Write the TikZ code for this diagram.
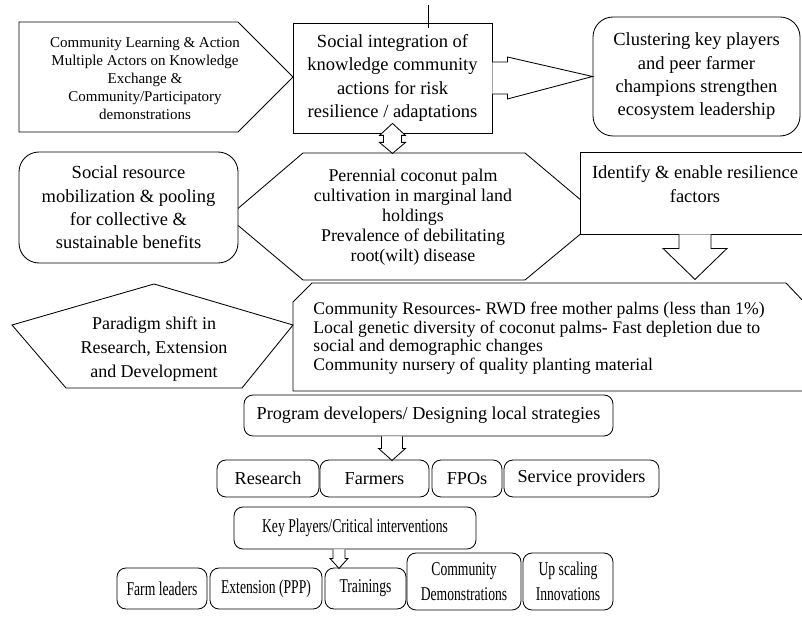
\documentclass[tikz,border=0pt]{standalone}
\usepackage{fontspec}
\setmainfont{Liberation Serif}
\newfontfamily\condfont[FakeStretch=0.7]{Liberation Serif}
\usetikzlibrary{calc}
\usetikzlibrary{positioning}

\begin{document}
\begin{tikzpicture}
    [
    x=1pt, y=-1pt,
    line width=0.85pt,
    sqbox/.style={rectangle,draw,fill=white,inner sep=0pt,align=center},
    rbox/.style={rectangle,rounded corners=9pt,draw,fill=white,inner sep=0pt,align=center},
    txt/.style={align=center,inner sep=0pt},
    blk/.style={draw,fill=white,line join=miter},
    big/.style={font=\fontsize{18.5}{23.3}\selectfont},
    mid/.style={font=\fontsize{18.2}{20}\selectfont},
    small/.style={font=\fontsize{15}{18}\selectfont},
    cond/.style={font=\condfont\fontsize{19.5}{25}\selectfont}
    ]
    \useasboundingbox (0,0) rectangle (802,628);
    % shaped boxes
    \draw (303,153) -- (525,153) -- (601,217) -- (525,280) -- (303,280) -- (228,217) -- cycle;
    \node (coco) at (413,217) [txt,font=\fontsize{17.9}{20}\selectfont] {Perennial coconut palm\\cultivation in marginal land\\holdings\\Prevalence of debilitating\\root(wilt) disease};
    \draw (19,22) -- (238,22) -- (293,77) -- (238,132) -- (19,132) -- cycle;
    \node (learn) at (145,79) [txt,small] {Community Learning \& Action\\Multiple Actors on Knowledge\\Exchange \&\\Community/Participatory\\demonstrations};
    \node (integ) at (392.5,78) [sqbox,big,minimum width=199,minimum height=110] {Social integration of\\knowledge community\\actions for risk\\resilience / adaptations};
    \node (clust) at (696.5,76.5) [rbox,big,rounded corners=20pt,minimum width=207,minimum height=119] {Clustering key players\\and peer farmer\\champions strengthen\\ecosystem leadership};
    \node (socres) at (128.5,207.5) [rbox,big,rounded corners=20pt,minimum width=219,minimum height=111] {Social resource\\mobilization \& pooling\\for collective \&\\sustainable benefits};
    \node (ident) at (695,193) [sqbox,minimum width=230,minimum height=82] {};
    \node (identtxt) at (695,184) [txt,big] {Identify \& enable resilience\\factors};
    \draw (312,283) -- (786,283) -- (806,304) -- (806,391) -- (293,391) -- (293,302) -- cycle;
    \node (res) at (313,338) [txt,anchor=west,align=left,font=\fontsize{17.7}{18.6}\selectfont] {Community Resources- RWD free mother palms (less than 1\%)\\Local genetic diversity of coconut palms- Fast depletion due to\\social and demographic changes\\Community nursery of quality planting material};
    \draw (154,284) -- (293,325) -- (242,388) -- (66,388) -- (12,325) -- cycle;
    \node (shift) at (154,349) [txt,font=\fontsize{18}{24}\selectfont] {Paradigm shift in\\Research, Extension\\and Development};
    % lower boxes
    \node (prog) at (428.5,415.5) [rbox,mid,minimum width=369,minimum height=41] {Program developers/ Designing local strategies};
    \node (research) at (268,478.5) [rbox,mid,minimum width=102,minimum height=37] {Research};
    \node (farmers) at (374.5,478.5) [rbox,mid,minimum width=109,minimum height=37] {Farmers};
    \node (fpos) at (467,478.5) [rbox,mid,minimum width=70,minimum height=37] {FPOs};
    \node (service) at (581.5,478.5) [rbox,mid,minimum width=155,minimum height=37] {Service providers};
    \node (key) at (355,528) [rbox,cond,minimum width=242,minimum height=42] {Key Players/Critical interventions};
    \node (farml) at (162,588.5) [rbox,cond,minimum width=90,minimum height=41] {Farm leaders};
    \node (ext) at (266,588.5) [rbox,cond,minimum width=112,minimum height=41] {Extension (PPP)};
    \node (train) at (365.5,588.5) [rbox,cond,minimum width=81,minimum height=41] {Trainings};
    \node (demo) at (464,581.5) [rbox,cond,minimum width=114,minimum height=57] {Community\\Demonstrations};
    \node (upscale) at (568,581.5) [rbox,cond,minimum width=90,minimum height=57] {Up scaling\\Innovations};
    % block arrows
    \coordinate (tick) at (428,5);
    \draw (tick) -- ++(0,23);
    \draw [blk] ($(integ.south)+(0,-10)$) -- ++(13,12) -- ++(-4,0) -- ++(0,7) -- ++(4,0) -- ++(-13,11) -- ++(-13,-11) -- ++(4,0) -- ++(0,-7) -- ++(-4,0) -- cycle;
    \draw [blk] ($(integ.east)+(0,-16)$) -- ++(15,0) -- ++(0,-5) -- (clust.west) -- ($(integ.east)+(15,21)$) -- ++(0,-5) -- ($(integ.east)+(0,16)$);
    \draw [blk] ($(ident.south)+(-16,0)$) -- ++(0,14) -- ++(-16,0) -- ($(ident.south)+(0,45)$) -- ($(ident.south)+(32,14)$) -- ++(-16,0) -- ++(0,-14);
    \draw [blk] ($(prog.south)+(-47,0)$) -- ++(0,12) -- ++(-3,0) -- ++(13.5,12) -- ++(13.5,-12) -- ++(-3,0) -- ++(0,-12);
    \draw [blk] ($(key.south)+(-22,0)$) -- ++(0,9) -- ++(-3,0) -- ++(9,10) -- ++(9,-10) -- ++(-3,0) -- ++(0,-9);
  \end{tikzpicture}
\end{document}
